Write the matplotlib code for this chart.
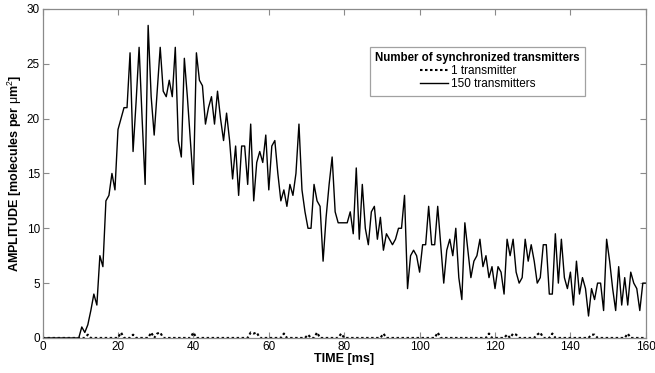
import numpy as np
import matplotlib
matplotlib.use('Agg')
import matplotlib.pyplot as plt

# sampling interval of the simulated signal [ms]
dt = 0.8

# 150 synchronized transmitters, one value per sample
amp_150 = [
    0, 0, 0, 0, 0, 0, 0, 0, 0, 0,
    0, 0, 0, 1.0, 0.5, 1.2, 2.5, 4, 3, 7.5,
    6.5, 12.5, 13, 15, 13.5, 19, 20, 21, 21, 26,
    17, 21.5, 26.5, 20, 14, 28.5, 22, 18.5, 22.5, 26.5,
    22.5, 22, 23.5, 22, 26.5, 18, 16.5, 25.5, 22, 18,
    14, 26, 23.5, 23, 19.5, 21, 22, 19.5, 22.5, 20,
    18, 20.5, 18, 14.5, 17.5, 13, 17.5, 17.5, 14, 19.5,
    12.5, 16, 17, 16, 18.5, 13.5, 17.5, 18, 15, 12.5,
    13.5, 12, 14, 13, 15, 19.5, 13.5, 11.5, 10, 10,
    14, 12.5, 12, 7, 11, 14, 16.5, 11.5, 10.5, 10.5,
    10.5, 10.5, 11.5, 9.5, 15.5, 9, 14, 10, 8.5, 11.5,
    12, 9, 11, 8, 9.5, 9, 8.5, 9, 10, 10,
    13, 4.5, 7.5, 8, 7.5, 6, 8.5, 8.5, 12, 8.5,
    8.5, 12, 8.5, 5, 8, 9, 7.5, 10, 5.5, 3.5,
    10.5, 8, 5.5, 7, 7.5, 9, 6.5, 7.5, 5.5, 6.5,
    4.5, 6.5, 6, 4, 9, 7.5, 9, 6, 5, 5.5,
    9, 7, 8.5, 7, 5, 5.5, 8.5, 8.5, 4, 4,
    9.5, 5, 9, 5.5, 4.5, 6, 3, 7, 4, 5.5,
    4.5, 2, 4.5, 3.5, 5, 5, 2.5, 9, 7, 4.5,
    2.5, 6.5, 3, 5.5, 3, 6, 5, 4.5, 2.5, 5,
    5,
]

# single transmitter: zero except for a few small blips
blip_times = [12.0, 20.8, 24.0, 28.8, 30.4, 31.2, 40.0, 55.2, 56.0, 56.8, 64.0, 70.4,
              72.8, 79.2, 90.4, 104.8, 118.4, 123.2, 124.8, 125.6, 131.2, 132.0,
              135.2, 145.6, 146.4, 155.2]
blip_vals = [0.3, 0.5, 0.3, 0.5, 0.4, 0.5, 0.5, 0.5, 0.4, 0.5, 0.4, 0.3,
             0.5, 0.4, 0.4, 0.5, 0.4, 0.3, 0.4, 0.3, 0.3, 0.5,
             0.4, 0.3, 0.3, 0.4]

x_ticks = [0, 20, 40, 60, 80, 100, 120, 140, 160]
y_ticks = [0, 5, 10, 15, 20, 25, 30]


def main():
    plt.rcParams['font.family'] = ['Liberation Sans', 'DejaVu Sans']
    plt.rcParams['mathtext.fontset'] = 'custom'
    plt.rcParams['mathtext.rm'] = 'Liberation Sans'
    plt.rcParams['mathtext.it'] = 'Liberation Sans'

    t = np.arange(len(amp_150)) * dt
    amp_1 = np.zeros(len(t))
    idx = np.rint(np.array(blip_times) / dt).astype(int)
    amp_1[idx] = blip_vals

    fig = plt.figure(figsize=(6.55, 3.73), dpi=100)
    ax = fig.add_axes([0.065, 0.094, 0.921, 0.882])

    ax.plot(t, amp_1, color='k', ls=(0, (1.2, 1.2)), lw=1.5, label='1 transmitter')
    ax.plot(t, amp_150, color='k', ls='-', lw=1.0, label='150 transmitters')

    ax.set_xlim(0, 160)
    ax.set_ylim(0, 30)
    ax.set_xticks(x_ticks)
    ax.set_yticks(y_ticks)

    gray = '#8a8a8a'
    for s in ax.spines.values():
        s.set_color(gray)
        s.set_linewidth(0.9)
    ax.tick_params(direction='in', length=4, width=0.8, color=gray,
                   labelcolor='k', labelsize=8.5, top=True, right=True, pad=2)

    ax.set_xlabel('TIME [ms]', fontsize=9, fontweight='bold', labelpad=0)
    ax.set_ylabel(r'AMPLITUDE [molecules per $\mu$m$^2$]', fontsize=9,
                  fontweight='bold', labelpad=2)

    leg = ax.legend(loc='upper left', bbox_to_anchor=(0.5425, 0.885),
                    title='Number of synchronized transmitters', fontsize=8.5,
                    title_fontproperties={'weight': 'bold', 'size': 8.3},
                    fancybox=False, frameon=True, edgecolor=gray,
                    handlelength=2.4, handletextpad=0.2, labelspacing=0.1,
                    borderpad=0.45, borderaxespad=0)
    leg.get_frame().set_linewidth(0.9)

    fig.savefig('out.png', dpi=100)


if __name__ == '__main__':
    main()
